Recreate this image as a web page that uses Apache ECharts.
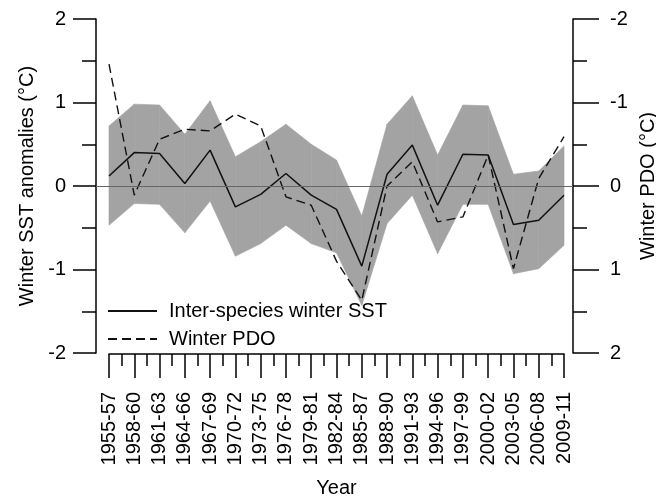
<!DOCTYPE html>
<html>
<head>
<meta charset="utf-8">
<script src="https://cdn.jsdelivr.net/npm/echarts@6/dist/echarts.min.js"></script>
<style>
  html, body { margin: 0; padding: 0; background: #fff; }
  #chart { width: 656px; height: 497px; }
</style>
</head>
<body>
<div id="chart"></div>
<script>
// 3-year winter periods
const periods = ['1955-57', '1958-60', '1961-63', '1964-66', '1967-69', '1970-72', '1973-75',
  '1976-78', '1979-81', '1982-84', '1985-87', '1988-90', '1991-93', '1994-96', '1997-99',
  '2000-02', '2003-05', '2006-08', '2009-11'];

// inter-species winter SST anomaly (°C)
const sstMean = [0.12, 0.40, 0.39, 0.03, 0.43, -0.25, -0.10, 0.15, -0.11, -0.28, -0.96,
  0.14, 0.49, -0.23, 0.38, 0.37, -0.46, -0.41, -0.11];
// spread between species (grey band)
const sstUpper = [0.72, 0.98, 0.97, 0.62, 1.02, 0.35, 0.53, 0.74, 0.50, 0.31, -0.36,
  0.74, 1.08, 0.37, 0.97, 0.96, 0.14, 0.18, 0.48];
const sstLower = [-0.47, -0.21, -0.22, -0.56, -0.18, -0.84, -0.69, -0.47, -0.69, -0.80, -1.43,
  -0.45, -0.11, -0.81, -0.22, -0.22, -1.05, -0.99, -0.71];

// winter PDO (right axis, reversed)
const pdo = [-1.46, 0.11, -0.56, -0.68, -0.66, -0.86, -0.72, 0.13, 0.23, 0.90, 1.37,
  0.00, -0.29, 0.43, 0.37, -0.37, 0.99, -0.09, -0.59];

const yTicks = [-2, 2];

const font = "'Liberation Sans', Arial, Helvetica, sans-serif";
const chart = echarts.init(document.getElementById('chart'));

const bandData = [];
for (let i = 0; i < periods.length - 1; i++) {
  bandData.push([i, sstLower[i], sstUpper[i], i + 1, sstLower[i + 1], sstUpper[i + 1]]);
}

const axisBlack = { color: '#000', width: 1.5 };

chart.setOption({
  animation: false,
  textStyle: { fontFamily: font },
  grid: [
    { left: 96, right: 83, top: 19, bottom: 144, outerBoundsMode: 'none', containLabel: false },
    { left: 109, right: 92, top: 200, bottom: 143, outerBoundsMode: 'none', containLabel: false }
  ],
  legend: {
    orient: 'vertical',
    left: 107,
    top: 301,
    padding: 0,
    itemWidth: 49,
    itemHeight: 18,
    itemGap: 8,
    itemStyle: { opacity: 0 },
    textStyle: { fontSize: 20, color: '#000', fontFamily: font, padding: [0, 0, 0, 7] },
    data: ['Inter-species winter SST', 'Winter PDO']
  },
  xAxis: [
    { type: 'value', gridIndex: 0, min: -0.514, max: 18.356, show: false },
    {
      type: 'value', gridIndex: 1, min: 0, max: periods.length - 1, interval: 1,
      name: 'Year', nameLocation: 'middle', nameGap: 124,
      nameTextStyle: { fontSize: 20, color: '#000' },
      axisLine: { onZero: false, lineStyle: axisBlack },
      axisTick: { length: 24, lineStyle: axisBlack },
      minorTick: { show: true, splitNumber: 2, length: 12, lineStyle: axisBlack },
      splitLine: { show: false },
      axisLabel: {
        rotate: 90, margin: 38, fontSize: 20, color: '#000',
        formatter: v => periods[v] || ''
      }
    }
  ],
  yAxis: [
    {
      type: 'value', gridIndex: 0, min: yTicks[0], max: yTicks[1], interval: 1,
      name: 'Winter SST anomalies (°C)', nameLocation: 'middle', nameGap: 56,
      nameTextStyle: { fontSize: 20, color: '#000' },
      axisLine: { show: true, onZero: false, lineStyle: axisBlack },
      axisTick: { show: true, length: 23, lineStyle: axisBlack },
      minorTick: { show: true, splitNumber: 2, length: 14, lineStyle: axisBlack },
      splitLine: { show: false },
      axisLabel: { margin: 30, fontSize: 20, color: '#000' }
    },
    {
      type: 'value', gridIndex: 0, position: 'right', inverse: true,
      min: yTicks[0], max: yTicks[1], interval: 1,
      name: 'Winter PDO (°C)', nameLocation: 'middle', nameGap: 64,
      nameTextStyle: { fontSize: 20, color: '#000' },
      axisLine: { show: true, onZero: false, lineStyle: axisBlack },
      axisTick: { show: true, length: 26, lineStyle: axisBlack },
      minorTick: { show: true, splitNumber: 2, length: 14, lineStyle: axisBlack },
      splitLine: { show: false },
      axisLabel: { margin: 37, fontSize: 20, color: '#000' }
    },
    { type: 'value', gridIndex: 1, min: 0, max: 1, show: false }
  ],
  series: [
    {
      name: 'band',
      type: 'custom',
      xAxisIndex: 0,
      yAxisIndex: 0,
      silent: true,
      data: bandData,
      renderItem: (params, api) => {
        const a = api.coord([api.value(0), api.value(1)]);
        const b = api.coord([api.value(3), api.value(4)]);
        const c = api.coord([api.value(3), api.value(5)]);
        const d = api.coord([api.value(0), api.value(2)]);
        return {
          type: 'polygon',
          shape: { points: [a, b, c, d] },
          style: { fill: '#a3a3a3', stroke: '#a3a3a3', lineWidth: 0.6 }
        };
      }
    },
    {
      name: 'Inter-species winter SST',
      type: 'line',
      xAxisIndex: 0,
      yAxisIndex: 0,
      symbol: 'none',
      data: sstMean.map((v, i) => [i, v]),
      lineStyle: { color: '#111', width: 1.5 },
      itemStyle: { color: '#111' },
      markLine: {
        silent: true,
        symbol: 'none',
        label: { show: false },
        lineStyle: { color: '#666', width: 1.2, type: 'solid' },
        data: [{ yAxis: 0 }]
      }
    },
    {
      name: 'Winter PDO',
      type: 'line',
      xAxisIndex: 0,
      yAxisIndex: 1,
      symbol: 'none',
      data: pdo.map((v, i) => [i, v]),
      lineStyle: { color: '#111', width: 1.4, type: [9, 5] },
      itemStyle: { color: '#111' }
    }
  ]
});
</script>
</body>
</html>
